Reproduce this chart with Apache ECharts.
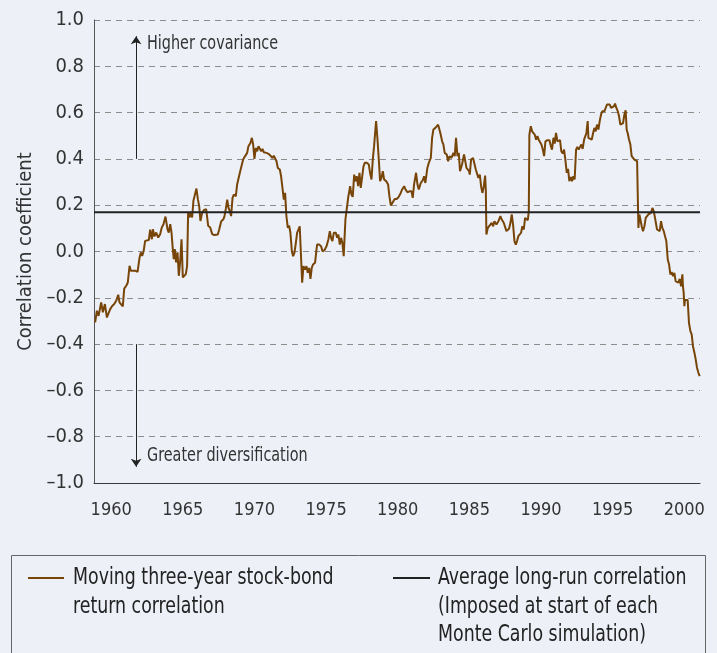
<!DOCTYPE html>
<html>
<head>
<meta charset="utf-8">
<script src="https://cdn.jsdelivr.net/npm/echarts@6/dist/echarts.min.js"></script>
<style>
  html, body { margin: 0; padding: 0; background: #edf0f7; }
  #chart { width: 717px; height: 653px; }
</style>
</head>
<body>
<div id="chart"></div>
<script>
// moving three-year stock-bond correlation
const years = [
  1958.88, 1959.00, 1959.12, 1959.30, 1959.42, 1959.56, 1959.70, 1959.81, 1959.93, 1960.07,
  1960.21, 1960.35, 1960.49, 1960.58, 1960.70, 1960.81, 1960.91, 1961.05, 1961.16, 1961.28,
  1961.37, 1961.51, 1961.67, 1961.84, 1961.98, 1962.07, 1962.16, 1962.26, 1962.37, 1962.49,
  1962.63, 1962.72, 1962.84, 1962.91, 1963.02, 1963.14, 1963.28, 1963.42, 1963.53, 1963.65,
  1963.79, 1963.93, 1964.02, 1964.12, 1964.21, 1964.30, 1964.37, 1964.44, 1964.53, 1964.63,
  1964.72, 1964.81, 1964.91, 1965.00, 1965.09, 1965.21, 1965.30, 1965.37, 1965.46, 1965.56,
  1965.65, 1965.74, 1965.86, 1965.95, 1966.05, 1966.14, 1966.23, 1966.35, 1966.49, 1966.63,
  1966.77, 1966.91, 1967.05, 1967.19,
  1967.26, 1967.44, 1967.54, 1967.68, 1967.82, 1967.91, 1968.00, 1968.10, 1968.19, 1968.28,
  1968.37, 1968.47, 1968.56, 1968.70, 1968.79, 1968.89, 1968.98, 1969.07, 1969.21, 1969.35,
  1969.49, 1969.58, 1969.72, 1969.82, 1969.91, 1970.00, 1970.09, 1970.19, 1970.28, 1970.37,
  1970.47, 1970.56, 1970.65, 1970.75, 1970.84, 1970.98, 1971.12, 1971.26, 1971.35, 1971.44,
  1971.54, 1971.63, 1971.77, 1971.86, 1971.95, 1972.05, 1972.14, 1972.23, 1972.33, 1972.42,
  1972.51, 1972.61, 1972.70, 1972.79, 1972.89, 1972.98, 1973.07, 1973.16, 1973.26, 1973.33,
  1973.42, 1973.54, 1973.63, 1973.72, 1973.82, 1973.91, 1974.00, 1974.09, 1974.23, 1974.37,
  1974.51, 1974.65, 1974.75, 1974.89, 1975.03, 1975.16, 1975.26, 1975.35, 1975.44, 1975.54,
  1975.68, 1975.77, 1975.86, 1975.96, 1976.05, 1976.14, 1976.23,
  1976.35, 1976.45, 1976.54, 1976.68, 1976.77, 1976.86, 1976.96, 1977.05, 1977.14, 1977.24,
  1977.33, 1977.42, 1977.52, 1977.61, 1977.70, 1977.84, 1977.98, 1978.07, 1978.17, 1978.26,
  1978.35, 1978.49, 1978.59, 1978.68, 1978.77, 1978.86, 1978.96, 1979.05, 1979.19, 1979.33,
  1979.42, 1979.52, 1979.65, 1979.79, 1979.93, 1980.07, 1980.21, 1980.31, 1980.45, 1980.54,
  1980.68, 1980.82, 1980.96, 1981.05, 1981.14, 1981.28, 1981.38, 1981.47, 1981.61, 1981.75,
  1981.84, 1981.93, 1982.07, 1982.17, 1982.31, 1982.40, 1982.49, 1982.63, 1982.72, 1982.82,
  1982.91, 1983.00, 1983.10, 1983.19, 1983.28, 1983.42, 1983.52, 1983.61, 1983.75, 1983.89,
  1983.98, 1984.07, 1984.17, 1984.26, 1984.35, 1984.49, 1984.63,
  1984.80, 1984.89, 1984.98, 1985.03, 1985.12, 1985.26, 1985.35, 1985.45, 1985.54, 1985.63,
  1985.73, 1985.82, 1985.91, 1986.01, 1986.10, 1986.15, 1986.19, 1986.29, 1986.42, 1986.56,
  1986.66, 1986.75, 1986.89, 1987.03, 1987.17, 1987.26, 1987.40, 1987.49, 1987.59, 1987.68,
  1987.77, 1987.87, 1987.96, 1988.05, 1988.15, 1988.24, 1988.33, 1988.42, 1988.52, 1988.61,
  1988.70, 1988.80, 1988.89, 1988.98, 1989.08, 1989.15, 1989.19, 1989.29, 1989.38, 1989.47,
  1989.56, 1989.66, 1989.75, 1989.84, 1989.94, 1990.03, 1990.12, 1990.22, 1990.31, 1990.45,
  1990.59, 1990.68, 1990.77, 1990.87, 1990.96, 1991.05, 1991.15, 1991.24, 1991.33, 1991.42,
  1991.52, 1991.61, 1991.70, 1991.80, 1991.89, 1991.98, 1992.08, 1992.17, 1992.26, 1992.35,
  1992.45, 1992.54, 1992.63, 1992.73, 1992.82, 1992.91, 1993.01,
  1993.17, 1993.26, 1993.31, 1993.40, 1993.54, 1993.64, 1993.73, 1993.82, 1993.91, 1994.01,
  1994.10, 1994.19, 1994.29, 1994.43, 1994.52, 1994.61, 1994.71, 1994.80, 1994.89, 1994.98,
  1995.08, 1995.17, 1995.26, 1995.36, 1995.45, 1995.54, 1995.64, 1995.73, 1995.82, 1995.91,
  1995.98, 1996.05, 1996.15, 1996.24, 1996.33, 1996.43, 1996.52, 1996.61, 1996.71, 1996.80,
  1996.87, 1996.94, 1997.03, 1997.12, 1997.22, 1997.31, 1997.40, 1997.50, 1997.59, 1997.68,
  1997.78, 1997.87, 1997.96, 1998.05, 1998.10, 1998.19, 1998.29, 1998.38, 1998.47, 1998.57,
  1998.66, 1998.75, 1998.85, 1998.94, 1999.03, 1999.12, 1999.22, 1999.31, 1999.40, 1999.50,
  1999.59, 1999.68, 1999.78, 1999.87, 1999.91, 1999.96, 2000.01, 2000.05, 2000.15, 2000.24,
  2000.33, 2000.43, 2000.52, 2000.61, 2000.71, 2000.80, 2000.89, 2000.99, 2001.08
];
const corr = [
  -0.306, -0.256, -0.278, -0.220, -0.263, -0.227, -0.285, -0.289, -0.249, -0.235,
  -0.227, -0.213, -0.187, -0.220, -0.213, -0.237, -0.160, -0.148, -0.134, -0.062,
  -0.083, -0.083, -0.083, -0.088, -0.026, -0.004, -0.019, 0.000, 0.046, 0.053,
  0.050, 0.094, 0.053, 0.096, 0.065, 0.082, 0.060, 0.075, 0.104, 0.118,
  0.151, 0.096, 0.082, 0.118, 0.082, 0.010, -0.033, 0.010, -0.047, -0.004,
  -0.105, -0.047, 0.053, -0.112, -0.119, -0.098, -0.062, 0.168, 0.147, 0.168,
  0.147, 0.219, 0.226, 0.272, 0.226, 0.197, 0.132, 0.168, 0.180, 0.183,
  0.111, 0.104, 0.075, 0.071,
  0.066, 0.073, 0.095, 0.131, 0.138, 0.153, 0.184, 0.224, 0.188, 0.174,
  0.153, 0.232, 0.246, 0.239, 0.289, 0.296, 0.340, 0.332, 0.397, 0.412,
  0.426, 0.455, 0.469, 0.491, 0.462, 0.400, 0.447, 0.433, 0.455, 0.462,
  0.433, 0.443, 0.429, 0.437, 0.426, 0.422, 0.414, 0.404, 0.414, 0.419,
  0.390, 0.361, 0.354, 0.325, 0.325, 0.224, 0.253, 0.153, 0.102, 0.112,
  0.081, 0.001, -0.020, -0.006, 0.037, 0.081, 0.088, 0.109, 0.117, -0.135,
  -0.063, -0.078, -0.063, -0.092, -0.071, -0.118, -0.071, -0.056, -0.049, 0.030,
  0.030, 0.023, 0.001, 0.006, 0.023, 0.052, 0.088, 0.059, 0.045, 0.081,
  0.081, 0.059, 0.073, 0.030, 0.059, 0.037, -0.020,
  0.138, 0.145, 0.232, 0.282, 0.246, 0.236, 0.332, 0.304, 0.325, 0.282,
  0.340, 0.275, 0.268, 0.368, 0.383, 0.383, 0.376, 0.340, 0.311, 0.397,
  0.455, 0.563, 0.483, 0.397, 0.304, 0.318, 0.347, 0.311, 0.304, 0.289,
  0.239, 0.199, 0.199, 0.227, 0.227, 0.236, 0.253, 0.268, 0.282, 0.268,
  0.256, 0.260, 0.260, 0.232, 0.289, 0.340, 0.289, 0.268, 0.296, 0.308,
  0.325, 0.296, 0.361, 0.383, 0.404, 0.491, 0.527, 0.534, 0.527, 0.548,
  0.527, 0.505, 0.476, 0.462, 0.426, 0.419, 0.390, 0.412, 0.404, 0.426,
  0.412, 0.491, 0.412, 0.426, 0.347, 0.376, 0.419,
  0.361, 0.354, 0.347, 0.332, 0.397, 0.404, 0.412, 0.354, 0.347, 0.318,
  0.332, 0.282, 0.253, 0.282, 0.328, 0.268, 0.073, 0.102, 0.109, 0.124,
  0.109, 0.131, 0.117, 0.131, 0.153, 0.138, 0.124, 0.131, 0.088, 0.081,
  0.098, 0.124, 0.160, 0.117, 0.045, 0.030, 0.045, 0.066, 0.059, 0.081,
  0.109, 0.095, 0.145, 0.153, 0.135, 0.174, 0.505, 0.541, 0.519, 0.512,
  0.505, 0.483, 0.498, 0.483, 0.491, 0.462, 0.443, 0.412, 0.476, 0.481,
  0.481, 0.458, 0.440, 0.491, 0.466, 0.512, 0.476, 0.481, 0.481, 0.433,
  0.423, 0.440, 0.397, 0.340, 0.357, 0.304, 0.322, 0.304, 0.325, 0.311,
  0.440, 0.452, 0.440, 0.447, 0.462, 0.443, 0.483,
  0.512, 0.563, 0.491, 0.483, 0.483, 0.512, 0.534, 0.519, 0.548, 0.527,
  0.563, 0.591, 0.606, 0.606, 0.613, 0.635, 0.627, 0.635, 0.620, 0.627,
  0.627, 0.639, 0.620, 0.606, 0.584, 0.548, 0.548, 0.555, 0.591, 0.610,
  0.527, 0.512, 0.483, 0.462, 0.412, 0.404, 0.397, 0.397, 0.390, 0.102,
  0.160, 0.138, 0.109, 0.088, 0.109, 0.145, 0.145, 0.160, 0.153, 0.167,
  0.188, 0.174, 0.145, 0.138, 0.095, 0.095, 0.088, 0.131, 0.102, 0.088,
  0.066, 0.045, -0.035, -0.056, -0.099, -0.089, -0.106, -0.092, -0.128, -0.121,
  -0.135, -0.118, -0.150, -0.099, -0.150, -0.178, -0.236, -0.210, -0.210, -0.210,
  -0.308, -0.344, -0.358, -0.409, -0.437, -0.466, -0.502, -0.524, -0.538
];
const avgCorr = 0.17;
const xStart = 1958.8;
const xEnd = 2001.1;
const xTicks = [1960, 1965, 1970, 1975, 1980, 1985, 1990, 1995, 2000];
const arrowYear = 1961.74;

const FONT = "'DejaVu Sans Condensed', 'Liberation Sans Narrow', sans-serif";
const BROWN = '#784508';
const DARK = '#222222';

const chart = echarts.init(document.getElementById('chart'));

const option = {
  backgroundColor: '#edf0f7',
  animation: false,
  textStyle: { fontFamily: FONT },
  grid: { left: 94, right: 17, top: 20, bottom: 170 },
  xAxis: {
    type: 'value',
    min: xStart,
    max: xEnd,
    splitLine: { show: false },
    axisTick: { show: false },
    axisLine: { show: true, onZero: false, lineStyle: { color: '#3a3a3a', width: 1 } },
    axisLabel: {
      customValues: xTicks,
      color: '#333',
      fontSize: 18,
      fontFamily: FONT,
      margin: 18,
      formatter: v => String(v)
    }
  },
  yAxis: {
    type: 'value',
    min: -1,
    max: 1,
    interval: 0.2,
    name: 'Correlation coefficient',
    nameLocation: 'middle',
    nameGap: 58,
    nameTextStyle: { color: '#333', fontSize: 20, fontFamily: FONT },
    axisTick: { show: false },
    axisLine: { show: true, lineStyle: { color: '#555', width: 1 } },
    axisLabel: {
      color: '#333',
      fontSize: 20,
      fontFamily: FONT,
      margin: 10,
      formatter: v => v.toFixed(1).replace('-', '\u2013')
    },
    splitLine: { show: true, lineStyle: { color: '#8c8c8c', type: [6, 5], width: 1 } }
  },
  series: [
    {
      name: 'Moving three-year stock-bond return correlation',
      type: 'line',
      data: years.map((y, i) => [y, corr[i]]),
      showSymbol: false,
      silent: true,
      lineStyle: { color: BROWN, width: 2 },
      itemStyle: { color: BROWN }
    },
    {
      name: 'Average long-run correlation',
      type: 'line',
      data: [[xStart, avgCorr], [xEnd, avgCorr]],
      showSymbol: false,
      silent: true,
      lineStyle: { color: DARK, width: 2 },
      itemStyle: { color: DARK },
      markLine: {
        silent: true,
        symbol: ['none', 'arrow'],
        symbolSize: 8,
        label: { show: false },
        lineStyle: { color: DARK, width: 1, type: 'solid' },
        data: [
          [{ coord: [arrowYear, 0.4] }, { coord: [arrowYear, 0.93] }],
          [{ coord: [arrowYear, -0.4] }, { coord: [arrowYear, -0.93] }]
        ]
      }
    }
  ],
  graphic: [
    { type: 'text', x: 147, y: 34, scaleX: 0.8, silent: true,
      style: { text: 'Higher covariance', fill: '#333', font: '20px ' + FONT } },
    { type: 'text', x: 147, y: 446, scaleX: 0.8, silent: true,
      style: { text: 'Greater diversification', fill: '#333', font: '20px ' + FONT } },
    // legend box
    { type: 'rect', silent: true,
      shape: { x: 11.5, y: 555.5, width: 694, height: 120 },
      style: { fill: 'none', stroke: '#666', lineWidth: 1 } },
    { type: 'line', silent: true,
      shape: { x1: 28, y1: 578, x2: 64, y2: 578 },
      style: { stroke: BROWN, lineWidth: 2 } },
    { type: 'text', silent: true, x: 73, y: 564, scaleX: 0.84,
      style: { text: 'Moving three-year stock-bond\nreturn correlation', fill: '#222',
               font: '23px ' + FONT, lineHeight: 28.5 } },
    { type: 'line', silent: true,
      shape: { x1: 393, y1: 578, x2: 430, y2: 578 },
      style: { stroke: DARK, lineWidth: 2 } },
    { type: 'text', silent: true, x: 438, y: 564, scaleX: 0.84,
      style: { text: 'Average long-run correlation\n(Imposed at start of each\nMonte Carlo simulation)',
               fill: '#222', font: '23px ' + FONT, lineHeight: 28.5 } }
  ]
};

chart.setOption(option);
</script>
</body>
</html>
